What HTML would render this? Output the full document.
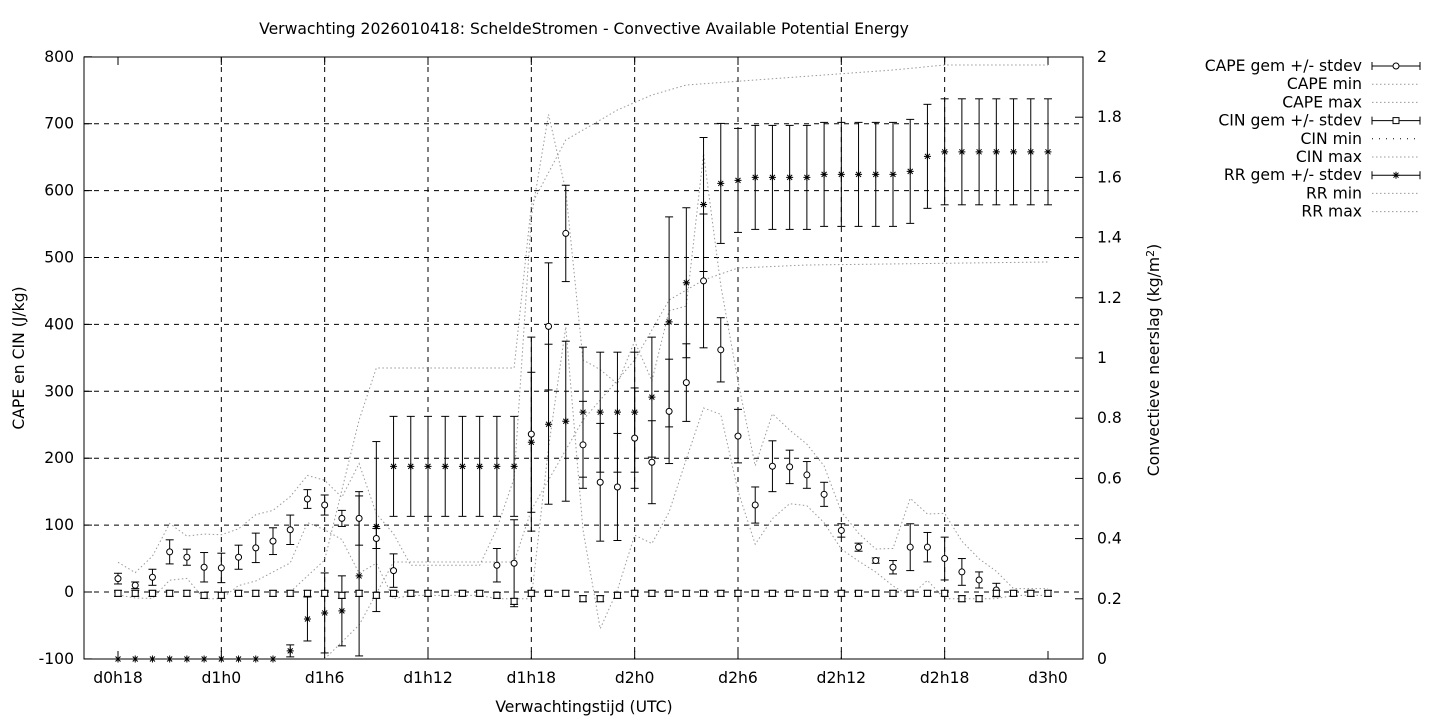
<!DOCTYPE html>
<html><head><meta charset="utf-8"><style>
body{margin:0;background:#fff;}
svg{font-family:"DejaVu Sans","Liberation Sans",sans-serif;font-size:15.6px;}
</style></head><body>
<svg id="s" width="1440" height="720" xmlns="http://www.w3.org/2000/svg"></svg>
<script>
const s=document.getElementById('s');
let h='';
const X0=84,X1=1083,Y0=57,Y1=659;
const xh=i=>118+i*17.222;
const yl=v=>592-v*0.669;
const yr=v=>659-v*301;
for(let k=-100;k<=800;k+=100){const y=yl(k);
 if(k>-100&&k<800)h+=`<line x1="${X0}" y1="${y}" x2="${X1}" y2="${y}" stroke="#000" stroke-dasharray="5,5" stroke-width="1"/>`;
 h+=`<line x1="${X0}" y1="${y}" x2="${X0+8}" y2="${y}" stroke="#000"/><text x="${X0-10}" y="${y+5}" text-anchor="end">${k}</text>`;}
for(let k=0;k<=10;k++){const v=k*0.2,y=yr(v);
 h+=`<line x1="${X1-8}" y1="${y}" x2="${X1}" y2="${y}" stroke="#000"/><text x="${X1+14}" y="${y+5}">${k==0?0:k%5==0?v.toFixed(0):v.toFixed(1)}</text>`;}
const xl=['d0h18','d1h0','d1h6','d1h12','d1h18','d2h0','d2h6','d2h12','d2h18','d3h0'];
xl.forEach((t,i)=>{const x=xh(i*6);
 if(i>0&&i<9)h+=`<line x1="${x}" y1="${Y0}" x2="${x}" y2="${Y1}" stroke="#000" stroke-dasharray="5,5"/>`;
 h+=`<line x1="${x}" y1="${Y1}" x2="${x}" y2="${Y1-8}" stroke="#000"/><line x1="${x}" y1="${Y0}" x2="${x}" y2="${Y0+8}" stroke="#000"/><text x="${x}" y="683" text-anchor="middle">${t}</text>`;});
h+=`<rect x="${X0}" y="${Y0}" width="${X1-X0}" height="${Y1-Y0}" fill="none" stroke="#000"/>`;
h+=`<text x="584" y="34" text-anchor="middle">Verwachting 2026010418: ScheldeStromen - Convective Available Potential Energy</text>`;
h+=`<text x="584" y="712" text-anchor="middle">Verwachtingstijd (UTC)</text>`;
h+=`<text transform="translate(24,358) rotate(-90)" text-anchor="middle">CAPE en CIN (J/kg)</text>`;
h+=`<text transform="translate(1159,360) rotate(-90)" text-anchor="middle">Convectieve neerslag (kg/m<tspan dy="-5" font-size="11">2</tspan><tspan dy="5">)</tspan></text>`;
const dot=(pts)=>`<polyline points="${pts.map(p=>p[0]+','+p[1]).join(' ')}" fill="none" stroke="#999" stroke-width="1" stroke-dasharray="1.5,2.5"/>`;
const cape={0:[20,8],1:[10,5],2:[22,12],3:[60,18],4:[52,12],5:[37,22],6:[36,22],7:[52,18],8:[66,22],9:[76,20],10:[93,22],11:[139,14],12:[130,15],13:[110,12],14:[110,40],15:[80,15],16:[32,25],22:[40,25],23:[43,65],24:[236,145],25:[397,95],26:[536,72],27:[220,65],28:[164,88],29:[157,80],30:[230,75],31:[194,62],32:[270,78],33:[313,58],34:[465,100],35:[362,48],36:[233,40],37:[130,27],38:[188,38],39:[187,25],40:[175,20],41:[146,18],42:[92,10],43:[67,6],44:[47,4],45:[37,10],46:[67,35],47:[67,22],48:[50,32],49:[30,20],50:[18,12],51:[3,10]};
let cmax=[],cmin=[];
for(let i=0;i<=54;i++){let m=cape[i]?cape[i][0]:0,sd=cape[i]?cape[i][1]:0;
 let mx=m+sd*1.8+10,mn=Math.max(-10,m-sd*1.8-10);
 if(i>=17&&i<=21){mx=40;mn=-5;}
 if(i==25)mx=714; if(i==26)mx=600;if(i==24)mx=560;
 if(i==28){mn=-55;}
 if(i>51){mx=5;mn=-5;}
 cmax.push([xh(i),yl(mx)]);cmin.push([xh(i),yl(mn)]);}
h+=dot(cmax)+dot(cmin);
const rmax=[[xh(10),592],[xh(12),560],[xh(14),420],[xh(15),368],[xh(23),368],[xh(24),205],[xh(26),140],[xh(29),110],[xh(31),95],[xh(33),85],[xh(45),70],[xh(48),65],[xh(54),65]];
const rmin=[[xh(12),659],[xh(14),625],[xh(16),562],[xh(23),562],[xh(24),510],[xh(27),420],[xh(30),360],[xh(32),300],[xh(34),280],[xh(36),268],[xh(40),265],[xh(54),262]];
h+=dot(rmax)+dot(rmin);
const eb=(x,y,e)=>`<line x1="${x}" y1="${y-e}" x2="${x}" y2="${y+e}" stroke="#000"/><line x1="${x-4}" y1="${y-e}" x2="${x+4}" y2="${y-e}" stroke="#000"/><line x1="${x-4}" y1="${y+e}" x2="${x+4}" y2="${y+e}" stroke="#000"/>`;
const star=(x,y)=>`<path d="M${x-3.5} ${y}H${x+3.5}M${x} ${y-3.5}V${y+3.5}M${x-2.5} ${y-2.5}L${x+2.5} ${y+2.5}M${x-2.5} ${y+2.5}L${x+2.5} ${y-2.5}" stroke="#000" stroke-width="1"/>`;
const rr=[0,0,0,0,0,0,0,0,0,0,0.027,0.133,0.153,0.16,0.276,0.44,0.64,0.64,0.64,0.64,0.64,0.64,0.64,0.64,0.72,0.78,0.79,0.82,0.82,0.82,0.82,0.87,1.12,1.25,1.51,1.58,1.59,1.6,1.6,1.6,1.6,1.61,1.61,1.61,1.61,1.61,1.62,1.67,1.685,1.685,1.685,1.685,1.685,1.685,1.685];
const rre=[0,0,0,0,0,0,0,0,0,0,6,22,40,35,80,85,50,50,50,50,50,50,50,50,70,80,80,65,60,60,60,60,105,75,67,60,52,52,52,52,52,52,52,52,52,52,52,52,53,53,53,53,53,53,53];
rr.forEach((v,i)=>{const x=xh(i),y=yr(v);if(rre[i])h+=eb(x,y,rre[i]);h+=star(x,y);});
for(const k in cape){const x=xh(+k),y=yl(cape[k][0]);h+=eb(x,y,cape[k][1]*0.669);h+=`<circle cx="${x}" cy="${y}" r="3" fill="#fff" stroke="#000"/>`;}
for(let i=0;i<=54;i++){let v=-2;if([5,6,15,23,29].includes(i))v=-5;if([27,28,49,50].includes(i))v=-10;if(i==23)v=-14;if(i==22||i==13)v=-5;const x=xh(i),y=yl(v);
 h+=eb(x,y,3)+`<rect x="${x-3}" y="${y-3}" width="6" height="6" fill="#fff" stroke="#000"/>`;}
const L=['CAPE gem +/- stdev','CAPE min','CAPE max','CIN gem +/- stdev','CIN min','CIN max','RR gem +/- stdev','RR min','RR max'];
L.forEach((t,i)=>{const y=66+i*18.2;h+=`<text x="1362" y="${y+5}" text-anchor="end">${t}</text>`;
 if(i%3==0){h+=`<line x1="1372" y1="${y}" x2="1420" y2="${y}" stroke="#000"/><line x1="1372" y1="${y-4}" x2="1372" y2="${y+4}" stroke="#000"/><line x1="1420" y1="${y-4}" x2="1420" y2="${y+4}" stroke="#000"/>`;
  if(i==0)h+=`<circle cx="1396" cy="${y}" r="3" fill="#fff" stroke="#000"/>`;
  if(i==3)h+=`<rect x="1393" y="${y-3}" width="6" height="6" fill="#fff" stroke="#000"/>`;
  if(i==6)h+=star(1396,y);}
 else h+=`<line x1="1372" y1="${y}" x2="1420" y2="${y}" stroke="${i==4?'#000':'#999'}" stroke-dasharray="${i==4?'1,6':'1.5,2.5'}"/>`;});
s.innerHTML=h;
</script>
</body></html>
